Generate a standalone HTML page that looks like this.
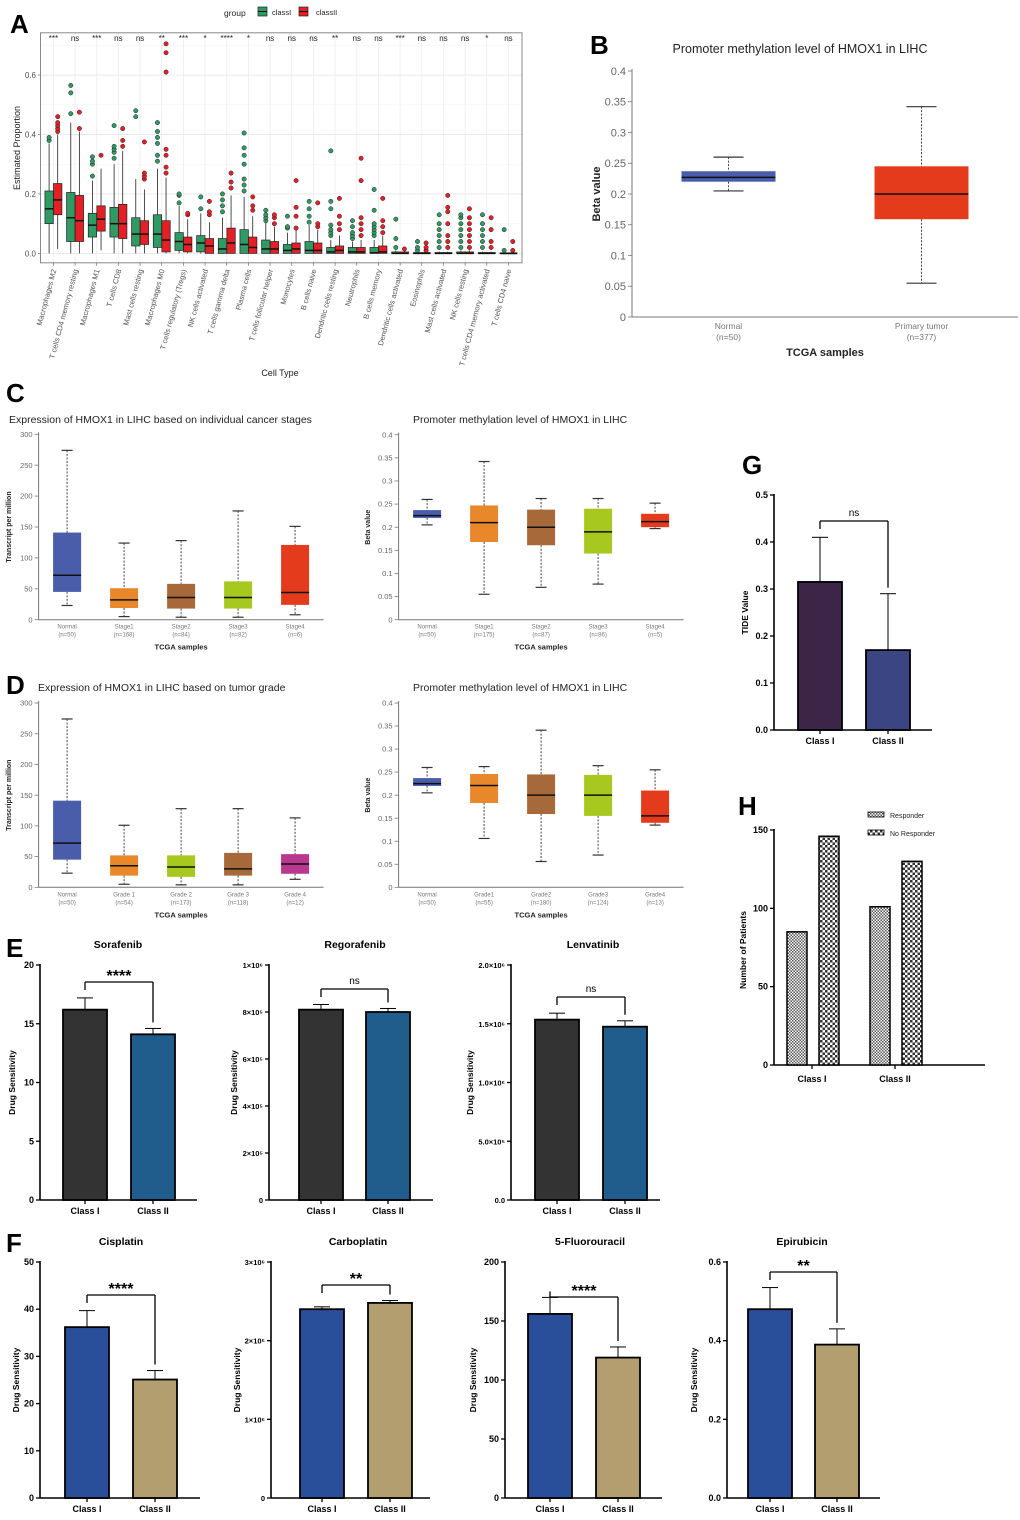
<!DOCTYPE html>
<html><head><meta charset="utf-8">
<style>
html,body{margin:0;padding:0;background:#fff;}
svg{display:block;font-family:"Liberation Sans",Arial,sans-serif;}
</style></head>
<body>
<svg id="chart" width="1020" height="1520" viewBox="0 0 1020 1520" xmlns="http://www.w3.org/2000/svg">
<defs>
<pattern id="patResp" width="3" height="3" patternUnits="userSpaceOnUse"><rect width="3" height="3" fill="#fff"/><rect width="1.5" height="1.5" fill="#555"/><rect x="1.5" y="1.5" width="1.5" height="1.5" fill="#555"/></pattern>
<pattern id="patNo" width="5" height="5" patternUnits="userSpaceOnUse"><rect width="5" height="5" fill="#fff"/><rect width="2.5" height="2.5" fill="#333"/><rect x="2.5" y="2.5" width="2.5" height="2.5" fill="#333"/></pattern>
</defs>
</svg>
<script>
// ===== Panel A data =====
const aCategories=["Macrophages M2","T cells CD4 memory resting","Macrophages M1","T cells CD8","Mast cells resting","Macrophages M0","T cells regulatory (Tregs)","NK cells activated","T cells gamma delta","Plasma cells","T cells follicular helper","Monocytes","B cells naive","Dendritic cells resting","Neutrophils","B cells memory","Dendritic cells activated","Eosinophils","Mast cells activated","NK cells resting","T cells CD4 memory activated","T cells CD4 naive"];
const aSig=["***","ns","***","ns","ns","**","***","*","****","*","ns","ns","ns","**","ns","ns","***","ns","ns","ns","*","ns"];
// [q1, median, q3, whiskerLow, whiskerHigh]
const aClassI=[[.10,.15,.21,0,.37],[.04,.12,.205,0,.44],[.055,.095,.135,0,.245],[.055,.10,.155,0,.30],[.025,.065,.12,0,.25],[.02,.065,.13,0,.285],[.01,.04,.07,0,.16],[.005,.035,.06,0,.135],[0,.015,.05,0,.12],[0,.03,.08,0,.19],[0,.015,.045,0,.105],[0,.01,.03,0,.07],[0,.01,.04,0,.095],[0,.005,.02,0,.045],[0,.005,.02,0,.04],[0,.002,.02,0,.045],[0,0,.005,0,.01],[0,0,.003,0,.006],[0,0,.003,0,.006],[0,0,.005,0,.01],[0,0,.003,0,.006],[0,0,.002,0,.003]];
const aClassII=[[.13,.18,.235,.015,.40],[.04,.11,.195,0,.41],[.075,.115,.16,.01,.285],[.05,.10,.165,0,.345],[.03,.065,.11,0,.215],[.005,.045,.11,0,.255],[.005,.03,.055,0,.115],[0,.025,.05,0,.105],[0,.035,.085,0,.195],[0,.02,.055,0,.125],[0,.015,.04,0,.09],[0,.015,.035,0,.08],[0,.01,.035,0,.08],[0,.01,.025,0,.06],[0,.005,.02,0,.045],[0,.005,.025,0,.06],[0,0,.005,0,.01],[0,0,.003,0,.006],[0,0,.003,0,.006],[0,0,.005,0,.01],[0,0,.003,0,.006],[0,0,.002,0,.003]];
const aOutI=[[.38,.39],[.47,.54,.565],[.26,.30,.31,.325],[.32,.34,.35,.36,.43],[.46,.48],[.31,.33,.37,.39,.41,.44],[.17,.195,.20],[.15,.19],[.14,.16,.18,.20],[.21,.23,.25,.30,.33,.355,.405],[.11,.12,.13,.145],[.085,.09,.125],[.105,.125,.15,.175],[.06,.07,.08,.095,.15,.175,.345],[.05,.06,.07,.09,.11],[.06,.07,.08,.09,.10,.145,.215],[.02,.05,.115],[.01,.02,.04],[.02,.04,.06,.08,.10,.13],[.02,.04,.06,.08,.10,.12,.13],[.02,.04,.06,.08,.10,.13],[.01,.08]];
const aOutII=[[.41,.42,.43,.44,.46],[.42,.475],[.33],[.36,.38,.42],[.25,.26,.27,.375],[.27,.29,.33,.35,.61,.675,.705],[.13,.135],[.13,.14,.175],[.22,.24,.27],[.145,.16,.19],[.10,.12,.13],[.085,.125,.155,.245],[.09,.10,.17],[.08,.10,.125,.185],[.06,.08,.10,.12,.245,.32],[.07,.09,.11,.185],[.015],[.01,.02,.035],[.02,.04,.06,.10,.14,.155,.195],[.02,.04,.06,.08,.10,.12,.15],[.02,.04,.08,.12],[.01,.04]];
const aTicks=[0,0.2,0.4,0.6];
const aTickLabels=["0.0","0.2","0.4","0.6"];

// ===== Panel B data =====
const bCategories=["Normal","Primary tumor"];
const bN=["(n=50)","(n=377)"];
const bStats=[[.22,.227,.237,.205,.26],[.159,.20,.245,.055,.342]];
const bTicks=[0,.05,.1,.15,.2,.25,.3,.35,.4];
const bTickLabels=["0","0.05","0.1","0.15","0.2","0.25","0.3","0.35","0.4"];

// ===== Panel C / D data =====
const cStageCats=["Normal","Stage1","Stage2","Stage3","Stage4"];
const cExprN=["(n=50)","(n=168)","(n=84)","(n=82)","(n=6)"];
const cExprStats=[[45,72,141,23,274],[19,32,51,5,124],[18,36,58,4,128],[18,36,62,4,176],[24,44,121,8,151]];
const cMethN=["(n=50)","(n=175)","(n=87)","(n=86)","(n=5)"];
const cMethStats=[[.22,.225,.237,.205,.26],[.168,.21,.247,.055,.342],[.161,.20,.238,.07,.262],[.143,.19,.24,.077,.262],[.20,.212,.229,.197,.252]];
const dExprCats=["Normal","Grade 1","Grade 2","Grade 3","Grade 4"];
const dExprN=["(n=50)","(n=54)","(n=173)","(n=118)","(n=12)"];
const dExprStats=[[45,72,141,23,274],[19,35,52,5,101],[17,33,52,4,128],[19,30,56,4,128],[22,38,54,13,113]];
const dMethCats=["Normal","Grade1","Grade2","Grade3","Grade4"];
const dMethN=["(n=50)","(n=55)","(n=180)","(n=124)","(n=13)"];
const dMethStats=[[.22,.225,.237,.205,.26],[.183,.221,.246,.106,.262],[.159,.20,.245,.056,.341],[.155,.20,.244,.07,.264],[.14,.155,.21,.135,.255]];
const exprTicks=[0,50,100,150,200,250,300];
const exprTickLabels=["0","50","100","150","200","250","300"];

// ===== Panel E / F / G / H data =====
const classCats=["Class I","Class II"];
const sorafenibVals=[16.2,14.1], sorafenibErr=[17.2,14.6];
const regorafenibVals=[810000,800000], regorafenibErr=[832000,815000];
const lenvatinibVals=[1535000,1475000], lenvatinibErr=[1590000,1525000];
const cisplatinVals=[36.2,25.1], cisplatinErr=[39.7,27.0];
const carboplatinVals=[2400000,2480000], carboplatinErr=[2430000,2510000];
const fluorouracilVals=[156,119], fluorouracilErr=[170,128];
const epirubicinVals=[0.48,0.39], epirubicinErr=[0.535,0.43];
const sorafenibTicks=[0,5,10,15,20], sorafenibTickLabels=["0","5","10","15","20"];
const regorafenibTicks=[0,200000,400000,600000,800000,1000000], regorafenibTickLabels=["0","2×10⁵","4×10⁵","6×10⁵","8×10⁵","1×10⁶"];
const lenvatinibTicks=[0,500000,1000000,1500000,2000000], lenvatinibTickLabels=["0.0","5.0×10⁵","1.0×10⁶","1.5×10⁶","2.0×10⁶"];
const cisplatinTicks=[0,10,20,30,40,50], cisplatinTickLabels=["0","10","20","30","40","50"];
const carboplatinTicks=[0,1000000,2000000,3000000], carboplatinTickLabels=["0","1×10⁶","2×10⁶","3×10⁶"];
const fluorouracilTicks=[0,50,100,150,200], fluorouracilTickLabels=["0","50","100","150","200"];
const epirubicinTicks=[0,0.2,0.4,0.6], epirubicinTickLabels=["0.0","0.2","0.4","0.6"];
const tideVals=[0.315,0.17], tideErr=[0.41,0.29];
const tideTicks=[0,.1,.2,.3,.4,.5], tideTickLabels=["0.0","0.1","0.2","0.3","0.4","0.5"];
const responderVals=[85,101];
const noResponderVals=[146,130];
const patientTicks=[0,50,100,150], patientTickLabels=["0","50","100","150"];

// ===== helpers =====
const NS='http://www.w3.org/2000/svg';
const svg=document.getElementById('chart');
function mk(tag,attrs,parent){const e=document.createElementNS(NS,tag);for(const k in attrs)e.setAttribute(k,attrs[k]);(parent||svg).appendChild(e);return e;}
function txt(x,y,s,opts,name){
  const t=mk('text',Object.assign({x:x,y:y},opts||{}));
  t.textContent=s;
  
  
  return t;}
function line(x1,y1,x2,y2,stroke,w,name,dash){
  const l=mk('line',{x1:x1,y1:y1,x2:x2,y2:y2,stroke:stroke,'stroke-width':w});
  if(dash)l.setAttribute('stroke-dasharray',dash);
  
  
  return l;}
function rect(x,y,w,h,fill,stroke,sw,name){
  const r=mk('rect',{x:x,y:y,width:w,height:h,fill:fill,stroke:stroke||'none','stroke-width':sw||0});
  
  
  return r;}
function vtext(x,y,s,opts,name){
  const t=txt(x,y,s,Object.assign({transform:'rotate(-90 '+x+' '+y+')','text-anchor':'middle'},opts),name);
  return t;}

// ===== Panel letters =====
const letters=[["A",10,33],["B",590,54],["C",6,402],["D",6,694],["G",742,474],["H",738,815],["E",6,957],["F",6,1252]];
letters.forEach(l=>{txt(l[1],l[2],l[0],{'font-size':26,'font-weight':'bold',fill:'#000'},'panel-letter-'+l[0].toLowerCase());});

// ===== Panel A =====
(function(){
  const L=40.5,R=522,T=32.8,B=262.8,y0=253.4,k=297.3;
  const yA=v=>y0-v*k;
  const xA=i=>53.4+i*21.67;
  rect(L,T,R-L,B-T,'#fff','none',0,'panel-a-plot-background');
  [0.1,0.3,0.5,0.7].forEach(v=>line(L,yA(v),R,yA(v),'#f3f3f3',0.6,'panel-a-minor-gridline'));
  aTicks.forEach((v,i)=>{line(L,yA(v),R,yA(v),'#e6e6e6',0.9,'panel-a-gridline');
    txt(36,yA(v)+3,aTickLabels[i],{'font-size':8,fill:'#4d4d4d','text-anchor':'end'},'panel-a-y-tick-label');
    line(38,yA(v),L,yA(v),'#555',0.6,'panel-a-y-tick');});
  aCategories.forEach((c,i)=>{line(xA(i),T,xA(i),B,'#ececec',0.8,'panel-a-x-gridline');});
  rect(L,T,R-L,B-T,'none','#888',1,'panel-a-plot-border');
  function box(cx,s,outs,fill,name){
    const hw=4.2;
    line(cx,yA(s[3]),cx,yA(s[4]),'#222',0.8,name+'-whisker');
    rect(cx-hw,yA(s[2]),2*hw,Math.max(1,yA(s[0])-yA(s[2])),fill,'#222',0.7,name+'-box');
    line(cx-hw,yA(s[1]),cx+hw,yA(s[1]),'#111',1.5,name+'-median');
    outs.forEach(o=>{const c=mk('circle',{cx:cx,cy:yA(o),r:2.2,fill:fill,stroke:'#222','stroke-width':0.5});
      
      });
  }
  aCategories.forEach((c,i)=>{
    const cx=xA(i);
    box(cx-4.3,aClassI[i],aOutI[i],'#2f9a64','panel-a-classI');
    box(cx+4.3,aClassII[i],aOutII[i],'#e51f26','panel-a-classII');
    line(cx,B,cx,B+3,'#555',0.6,'panel-a-x-tick');
    txt(cx,41,aSig[i],{'font-size':8,fill:'#222','text-anchor':'middle'},'panel-a-significance-label');
    const lx=cx+3,ly=270;
    txt(lx,ly,c,{'font-size':7.5,fill:'#555','text-anchor':'end',transform:'rotate(-75 '+lx+' '+ly+')'},'panel-a-x-label');
  });
  vtext(20,148,'Estimated Proportion',{'font-size':9,fill:'#222'},'panel-a-y-axis-title');
  txt(280,376,'Cell Type',{'font-size':9,fill:'#222','text-anchor':'middle'},'panel-a-x-axis-title');
  txt(224,16,'group',{'font-size':8.5,fill:'#222'},'panel-a-legend-title');
  rect(258,7,9,9,'#2f9a64','#222',0.7,'panel-a-legend-key-classI');
  line(258,11.5,267,11.5,'#111',1,'panel-a-legend-key-median');
  txt(272,15,'classI',{'font-size':7.5,fill:'#222'},'panel-a-legend-label-classI');
  rect(299,7,9,9,'#e51f26','#222',0.7,'panel-a-legend-key-classII');
  line(299,11.5,308,11.5,'#111',1,'panel-a-legend-key-median');
  txt(316,15,'classII',{'font-size':7.5,fill:'#222'},'panel-a-legend-label-classII');
})();

// ===== generic TCGA box panel =====
function tcgaPanel(cfg){
  const y=v=>cfg.y0-(v/cfg.max)*(cfg.y0-cfg.yTop);
  const step=(cfg.xEnd-cfg.axisX)/cfg.cats.length;
  const xc=i=>cfg.axisX+(i+0.5)*step;
  line(cfg.axisX,cfg.yTop-2,cfg.axisX,cfg.y0,'#777',cfg.axisW||1,cfg.name+'-y-axis');
  line(cfg.axisX,cfg.y0,cfg.xEnd,cfg.y0,'#777',cfg.axisW||1,cfg.name+'-x-axis');
  cfg.ticks.forEach((v,i)=>{line(cfg.axisX-4,y(v),cfg.axisX,y(v),'#777',0.8,cfg.name+'-y-tick');
    txt(cfg.axisX-6,y(v)+cfg.fs*0.35,cfg.tickLabels[i],{'font-size':cfg.fs,fill:'#666','text-anchor':'end'},cfg.name+'-y-tick-label');});
  cfg.cats.forEach((c,i)=>{
    const s=cfg.stats[i],x=xc(i),hw=cfg.bw/2,col=cfg.colors[i];
    line(x,y(s[4]),x,y(s[2]),'#444',1,cfg.name+'-whisker-upper','2,1.5');
    line(x,y(s[0]),x,y(s[3]),'#444',1,cfg.name+'-whisker-lower','2,1.5');
    line(x-cfg.cap/2,y(s[4]),x+cfg.cap/2,y(s[4]),'#333',1.2,cfg.name+'-whisker-cap');
    line(x-cfg.cap/2,y(s[3]),x+cfg.cap/2,y(s[3]),'#333',1.2,cfg.name+'-whisker-cap');
    rect(x-hw,y(s[2]),cfg.bw,y(s[0])-y(s[2]),col,'none',0,cfg.name+'-box-'+c.toLowerCase().replace(/\s+/g,''));
    line(x-hw,y(s[1]),x+hw,y(s[1]),'#111',1.5,cfg.name+'-median');
    txt(x,cfg.y0+cfg.lab1,c,{'font-size':cfg.fsx,fill:'#777','text-anchor':'middle'},cfg.name+'-x-label');
    txt(x,cfg.y0+cfg.lab2,cfg.ns[i],{'font-size':cfg.fsx,fill:'#777','text-anchor':'middle'},cfg.name+'-x-sample-size');
  });
  txt((cfg.axisX+cfg.xEnd)/2,cfg.y0+cfg.xt,'TCGA samples',{'font-size':cfg.fst,'font-weight':'bold',fill:'#222','text-anchor':'middle'},cfg.name+'-x-axis-title');
  vtext(cfg.yTitleX,(cfg.y0+cfg.yTop)/2,cfg.yTitle,{'font-size':cfg.fsy,'font-weight':'bold',fill:'#222'},cfg.name+'-y-axis-title');
  txt(cfg.titleX,cfg.titleY,cfg.title,{'font-size':cfg.fsTitle,fill:'#222','text-anchor':cfg.titleAnchor||'start'},cfg.name+'-title');
}
const stageColors=["#4a5dab","#e8882a","#a8693a","#a7c81f","#e43b1c"];
const gradeColorsL=["#4a5dab","#e8882a","#a7c81f","#a8693a","#b93990"];
const gradeColorsR=["#4a5dab","#e8882a","#a8693a","#a7c81f","#e43b1c"];
tcgaPanel({name:'panel-b',cats:bCategories,ns:bN,stats:bStats,colors:["#4a5dab","#e43b1c"],axisX:632,xEnd:1018,y0:317,yTop:71,max:0.4,ticks:bTicks,tickLabels:bTickLabels,bw:94,cap:30,fs:11,fsx:8.5,lab1:12,lab2:23,xt:39,fst:11,fsy:11,yTitle:'Beta value',yTitleX:600,title:'Promoter methylation level of HMOX1 in LIHC',titleX:800,titleY:53,titleAnchor:'middle',fsTitle:12.5});
tcgaPanel({name:'panel-c-expression',cats:cStageCats,ns:cExprN,stats:cExprStats,colors:stageColors,axisX:38.6,xEnd:323.6,y0:619.7,yTop:434.3,max:300,ticks:exprTicks,tickLabels:exprTickLabels,bw:28,cap:11,fs:7.5,fsx:6,lab1:9,lab2:17,xt:30,fst:7.5,fsy:7,yTitle:'Transcript per million',yTitleX:11,title:'Expression of HMOX1 in LIHC based on individual cancer stages',titleX:9,titleY:423,fsTitle:10.5});
tcgaPanel({name:'panel-c-methylation',cats:cStageCats,ns:cMethN,stats:cMethStats,colors:stageColors,axisX:398.6,xEnd:683.6,y0:619.7,yTop:434.7,max:0.4,ticks:bTicks,tickLabels:bTickLabels,bw:28,cap:11,fs:7.5,fsx:6,lab1:9,lab2:17,xt:30,fst:7.5,fsy:7,yTitle:'Beta value',yTitleX:370,title:'Promoter methylation level of HMOX1 in LIHC',titleX:413,titleY:423,fsTitle:10.5});
tcgaPanel({name:'panel-d-expression',cats:dExprCats,ns:dExprN,stats:dExprStats,colors:gradeColorsL,axisX:38.6,xEnd:323.6,y0:887.3,yTop:703,max:300,ticks:exprTicks,tickLabels:exprTickLabels,bw:28,cap:11,fs:7.5,fsx:6,lab1:9,lab2:17,xt:30,fst:7.5,fsy:7,yTitle:'Transcript per million',yTitleX:11,title:'Expression of HMOX1 in LIHC based on tumor grade',titleX:38,titleY:691,fsTitle:10.5});
tcgaPanel({name:'panel-d-methylation',cats:dMethCats,ns:dMethN,stats:dMethStats,colors:gradeColorsR,axisX:398.6,xEnd:683.6,y0:887.3,yTop:703,max:0.4,ticks:bTicks,tickLabels:bTickLabels,bw:28,cap:11,fs:7.5,fsx:6,lab1:9,lab2:17,xt:30,fst:7.5,fsy:7,yTitle:'Beta value',yTitleX:370,title:'Promoter methylation level of HMOX1 in LIHC',titleX:413,titleY:691,fsTitle:10.5});

// ===== generic bar panel =====
function barPanel(cfg){
  const y=v=>cfg.y0-(v/cfg.max)*(cfg.y0-cfg.yTop);
  const xc=i=>cfg.first+i*cfg.step;
  line(cfg.axisX,cfg.yTop-1,cfg.axisX,cfg.y0,'#000',1.6,cfg.name+'-y-axis');
  line(cfg.axisX,cfg.y0,cfg.xEnd,cfg.y0,'#000',1.6,cfg.name+'-x-axis');
  cfg.ticks.forEach((v,i)=>{line(cfg.axisX-4,y(v),cfg.axisX,y(v),'#000',1.3,cfg.name+'-y-tick');
    txt(cfg.axisX-6,y(v)+3,cfg.tickLabels[i],{'font-size':cfg.fs||9,'font-weight':'bold',fill:'#000','text-anchor':'end'},cfg.name+'-y-tick-label');});
  cfg.vals.forEach((v,i)=>{
    const x=xc(i),hw=cfg.bw/2;
    line(x,y(v),x,y(cfg.err[i]),'#000',1,cfg.name+'-error-bar');
    line(x-8,y(cfg.err[i]),x+8,y(cfg.err[i]),'#000',1,cfg.name+'-error-cap');
    rect(x-hw,y(v),cfg.bw,cfg.y0-y(v),cfg.colors[i],'#000',1.8,cfg.name+'-bar-'+(i===0?'class-i':'class-ii'));
    line(x,cfg.y0,x,cfg.y0+4,'#000',1.3,cfg.name+'-x-tick');
    txt(x,cfg.y0+14,classCats[i],{'font-size':9,'font-weight':'bold',fill:'#000','text-anchor':'middle'},cfg.name+'-x-label');
  });
  if(cfg.sig){
    const sy=cfg.sigY;
    line(xc(0),sy,xc(1),sy,'#000',1.3,cfg.name+'-significance-bracket');
    line(xc(0),sy,xc(0),Math.min(y(cfg.err[0])-6,sy+8),'#000',1.3,cfg.name+'-significance-bracket');
    line(xc(1),sy,xc(1),y(cfg.err[1])-6,'#000',1.3,cfg.name+'-significance-bracket');
    const isStar=cfg.sig.indexOf('*')>=0;
    txt((xc(0)+xc(1))/2,sy-(isStar?1:5),cfg.sig,{'font-size':isStar?16:10,'font-weight':isStar?'bold':'normal',fill:'#000','text-anchor':'middle'},cfg.name+'-significance-label');
  }
  if(cfg.title)txt(cfg.titleX,cfg.titleY,cfg.title,{'font-size':10.5,'font-weight':'bold',fill:'#000','text-anchor':'middle'},cfg.name+'-title');
  vtext(cfg.yTitleX,(cfg.y0+cfg.yTop)/2+cfg.yTitleDy,cfg.yTitle,{'font-size':8.5,'font-weight':'bold',fill:'#000'},cfg.name+'-y-axis-title');
}
const eCols=["#333333","#205d8c"], fCols=["#2a4f9a","#b39e70"];
barPanel({name:'panel-e-sorafenib',vals:sorafenibVals,err:sorafenibErr,ticks:sorafenibTicks,tickLabels:sorafenibTickLabels,max:20,axisX:40,xEnd:197,y0:1200,yTop:965,first:85,step:68,bw:44,colors:eCols,sig:'****',sigY:982,title:'Sorafenib',titleX:118,titleY:948,yTitle:'Drug Sensitivity',yTitleX:15,yTitleDy:0});
barPanel({name:'panel-e-regorafenib',vals:regorafenibVals,err:regorafenibErr,ticks:regorafenibTicks,tickLabels:regorafenibTickLabels,max:1000000,axisX:269,xEnd:433,y0:1200,yTop:965,first:321,step:67,bw:44,colors:eCols,sig:'ns',sigY:989,title:'Regorafenib',titleX:355,titleY:948,yTitle:'Drug Sensitivity',yTitleX:237,yTitleDy:0,fs:7.5});
barPanel({name:'panel-e-lenvatinib',vals:lenvatinibVals,err:lenvatinibErr,ticks:lenvatinibTicks,tickLabels:lenvatinibTickLabels,max:2000000,axisX:511,xEnd:660,y0:1200,yTop:965,first:557,step:68,bw:44,colors:eCols,sig:'ns',sigY:997,title:'Lenvatinib',titleX:593,titleY:948,yTitle:'Drug Sensitivity',yTitleX:473,yTitleDy:0,fs:7.5});
barPanel({name:'panel-f-cisplatin',vals:cisplatinVals,err:cisplatinErr,ticks:cisplatinTicks,tickLabels:cisplatinTickLabels,max:50,axisX:40,xEnd:200,y0:1498,yTop:1262,first:87,step:68,bw:44,colors:fCols,sig:'****',sigY:1295,title:'Cisplatin',titleX:121,titleY:1245,yTitle:'Drug Sensitivity',yTitleX:19,yTitleDy:0});
barPanel({name:'panel-f-carboplatin',vals:carboplatinVals,err:carboplatinErr,ticks:carboplatinTicks,tickLabels:carboplatinTickLabels,max:3000000,axisX:271,xEnd:430,y0:1498,yTop:1262,first:322,step:68,bw:44,colors:fCols,sig:'**',sigY:1285,title:'Carboplatin',titleX:358,titleY:1245,yTitle:'Drug Sensitivity',yTitleX:240,yTitleDy:0,fs:7.5});
barPanel({name:'panel-f-5-fluorouracil',vals:fluorouracilVals,err:fluorouracilErr,ticks:fluorouracilTicks,tickLabels:fluorouracilTickLabels,max:200,axisX:505,xEnd:662,y0:1498,yTop:1262,first:550,step:68,bw:44,colors:fCols,sig:'****',sigY:1297,title:'5-Fluorouracil',titleX:590,titleY:1245,yTitle:'Drug Sensitivity',yTitleX:476,yTitleDy:0});
barPanel({name:'panel-f-epirubicin',vals:epirubicinVals,err:epirubicinErr,ticks:epirubicinTicks,tickLabels:epirubicinTickLabels,max:0.6,axisX:727,xEnd:880,y0:1498,yTop:1262,first:770,step:67,bw:44,colors:fCols,sig:'**',sigY:1272,title:'Epirubicin',titleX:802,titleY:1245,yTitle:'Drug Sensitivity',yTitleX:697,yTitleDy:0});
barPanel({name:'panel-g-tide',vals:tideVals,err:tideErr,ticks:tideTicks,tickLabels:tideTickLabels,max:0.5,axisX:774,xEnd:932,y0:730,yTop:495,first:820,step:68,bw:44,colors:["#3d2548","#3c4584"],sig:'ns',sigY:521,title:null,yTitle:'TIDE Value',yTitleX:748,yTitleDy:0});

// ===== Panel H =====
(function(){
  const axisX=774,xEnd=985,y0=1065,yTop=830,max=150;
  const y=v=>y0-(v/max)*(y0-yTop);
  const groupCenter=i=>812+i*83;
  line(axisX,yTop-1,axisX,y0,'#000',1.6,'panel-h-y-axis');
  line(axisX,y0,xEnd,y0,'#000',1.6,'panel-h-x-axis');
  patientTicks.forEach((v,i)=>{line(axisX-4,y(v),axisX,y(v),'#000',1.3,'panel-h-y-tick');
    txt(axisX-6,y(v)+3,patientTickLabels[i],{'font-size':9,'font-weight':'bold',fill:'#000','text-anchor':'end'},'panel-h-y-tick-label');});
  classCats.forEach((c,i)=>{
    const gc=groupCenter(i);
    rect(gc-25,y(responderVals[i]),20,y0-y(responderVals[i]),'url(#patResp)','#000',1.5,'panel-h-bar-responder');
    rect(gc+7,y(noResponderVals[i]),20,y0-y(noResponderVals[i]),'url(#patNo)','#000',1.5,'panel-h-bar-no-responder');
    line(gc,y0,gc,y0+4,'#000',1.3,'panel-h-x-tick');
    txt(gc,y0+17,c,{'font-size':9,'font-weight':'bold',fill:'#000','text-anchor':'middle'},'panel-h-x-label');
  });
  vtext(746,950,'Number of Patients',{'font-size':8.5,'font-weight':'bold',fill:'#000'},'panel-h-y-axis-title');
  rect(868,812,16,5,'url(#patResp)','#000',0.8,'panel-h-legend-key-responder');
  txt(890,818,'Responder',{'font-size':7,fill:'#222'},'panel-h-legend-label-responder');
  rect(868,830,16,5,'url(#patNo)','#000',0.8,'panel-h-legend-key-no-responder');
  txt(890,836,'No Responder',{'font-size':7,fill:'#222'},'panel-h-legend-label-no-responder');
})();
</script>
</body></html>
